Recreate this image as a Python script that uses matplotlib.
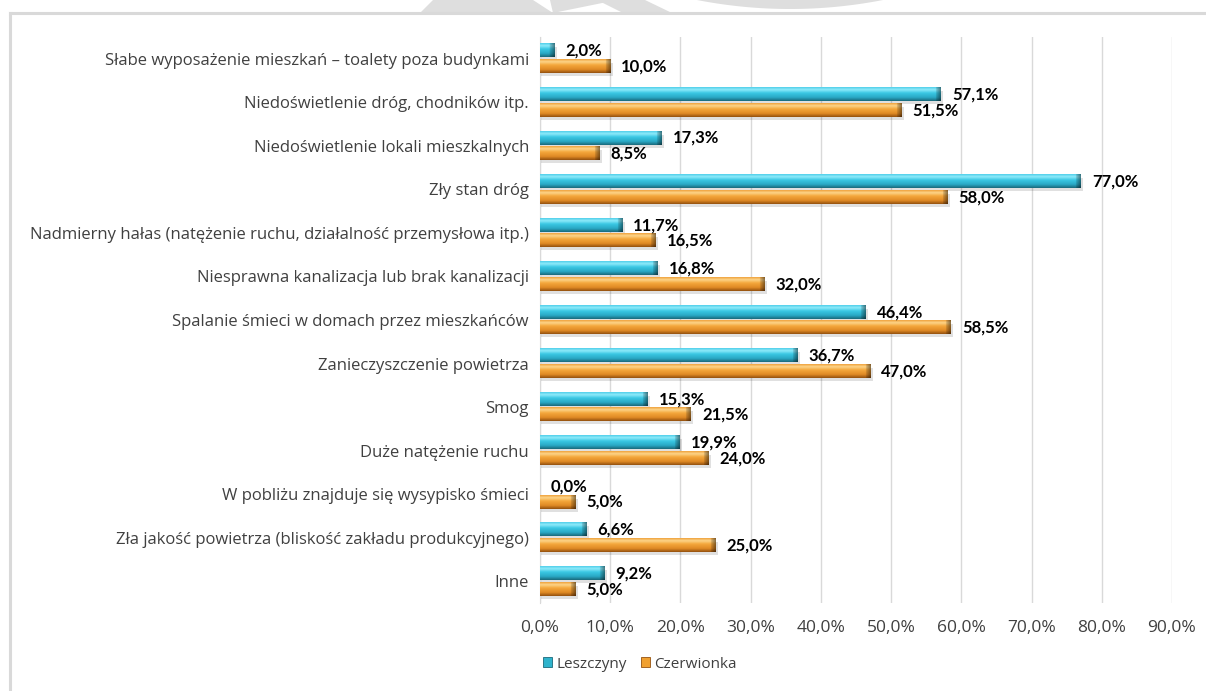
import numpy as np
import matplotlib.pyplot as plt
from matplotlib.colors import LinearSegmentedColormap
from matplotlib.patches import Polygon, Rectangle
from matplotlib.lines import Line2D

plt.rcParams['font.family'] = ['Lato', 'DejaVu Sans']

categories = [
    'Słabe wyposażenie mieszkań – toalety poza budynkami',
    'Niedoświetlenie dróg, chodników itp.',
    'Niedoświetlenie lokali mieszkalnych',
    'Zły stan dróg',
    'Nadmierny hałas (natężenie ruchu, działalność przemysłowa itp.)',
    'Niesprawna kanalizacja lub brak kanalizacji',
    'Spalanie śmieci w domach przez mieszkańców',
    'Zanieczyszczenie powietrza',
    'Smog',
    'Duże natężenie ruchu',
    'W pobliżu znajduje się wysypisko śmieci',
    'Zła jakość powietrza (bliskość zakładu produkcyjnego)',
    'Inne',
]
leszczyny = [2.0, 57.1, 17.3, 77.0, 11.7, 16.8, 46.4, 36.7, 15.3, 19.9, 0.0, 6.6, 9.2]
czerwionka = [10.0, 51.5, 8.5, 58.0, 16.5, 32.0, 58.5, 47.0, 21.5, 24.0, 5.0, 25.0, 5.0]
series_names = ['Leszczyny', 'Czerwionka']

W, H = 1206, 691
fig = plt.figure(figsize=(W / 100, H / 100), dpi=100)

def fx(x):
    return x / W

def fy(y):
    return 1 - y / H

# faint logo pieces peeking above the frame
logo_grey = '#dedede'
shapes = [
    [(433, 0), (533, 0), (553, 13), (420, 13)],
    [(550, 0), (617, 0), (553, 13)],
    [(597, 0), (645, 0), (672, 13), (623, 13)],
]
for pts in shapes:
    fig.add_artist(Polygon([(fx(a), fy(b)) for a, b in pts], closed=True,
                           transform=fig.transFigure, color=logo_grey, lw=0))
R, cx, cy = 485, 790, -476
xs = np.linspace(697, 883, 60)
ys = cy + np.sqrt(np.clip(R ** 2 - (xs - cx) ** 2, 0, None))
arc = [(fx(a), fy(b)) for a, b in zip(xs, ys)] + [(fx(883), fy(0)), (fx(697), fy(0))]
fig.add_artist(Polygon(arc, closed=True, transform=fig.transFigure, color=logo_grey, lw=0))

# chart frame
fig.add_artist(Line2D([fx(10), fx(10)], [0, fy(13)], color='#d9d9d9', lw=2.2))
fig.add_artist(Line2D([fx(10), 1], [fy(13), fy(13)], color='#d9d9d9', lw=2.2))

ax = fig.add_axes([fx(540), fy(603), fx(1172) - fx(540), fy(37) - fy(603)])

teal_cmap = LinearSegmentedColormap.from_list('teal', [
    (0.0, '#52d0ea'), (0.18, '#8eeafa'), (0.42, '#3ac8e4'),
    (0.75, '#29a8c4'), (1.0, '#1a6a7c')])
orange_cmap = LinearSegmentedColormap.from_list('orange', [
    (0.0, '#f0a33e'), (0.18, '#fdd58a'), (0.42, '#f4a73c'),
    (0.75, '#e08a25'), (1.0, '#95520f')])

y = np.arange(len(categories))
bh = 0.3
off = 0.18

def shaded_bars(values, pos, cmap):
    rows = np.linspace(0, 1, 40)
    grad = cmap(rows)[:, :3]
    for v, yc in zip(values, pos):
        if v <= 0:
            continue
        y0, y1 = yc - bh / 2, yc + bh / 2
        # soft shadow under the bar
        ax.add_patch(Rectangle((0, y0 + 0.07), v + 0.35, bh, color='#000000',
                               alpha=0.12, lw=0, zorder=2))
        ncol = max(int(v * 10), 4)
        bev = min(7, ncol // 2)
        img = np.repeat(grad[:, None, :], ncol, axis=1)
        shade = np.ones(ncol)
        shade[-bev:] = np.linspace(0.85, 0.55, bev)
        img = img * shade[None, :, None]
        ax.imshow(img, extent=(0, v, y0, y1), origin='lower', aspect='auto',
                  interpolation='bilinear', zorder=3)

shaded_bars(leszczyny, y - off, teal_cmap)
shaded_bars(czerwionka, y + off, orange_cmap)

def fmt(v):
    return f'{v:.1f}'.replace('.', ',') + '%'

for vals, pos in [(leszczyny, y - off), (czerwionka, y + off)]:
    for v, yc in zip(vals, pos):
        ax.annotate(fmt(v), (v, yc), xytext=(8, 0), textcoords='offset points',
                    ha='left', va='center', fontsize=12, fontweight='bold',
                    color='#000000', zorder=5)

label_font = {'family': ['Open Sans', 'DejaVu Sans'], 'size': 12}

ax.set_xlim(0, 90)
ax.set_ylim(len(categories) - 0.5, -0.5)
ax.set_xticks(np.arange(0, 91, 10))
ax.set_xticklabels([fmt(t) for t in np.arange(0, 91, 10)],
                   fontdict={**label_font, 'size': 12.5}, color='#404040')
ax.set_yticks(y)
ax.set_yticklabels(categories, fontdict=label_font, color='#404040')
ax.tick_params(length=0, pad=8)
ax.tick_params(axis='x', pad=12)
ax.grid(axis='x', color='#d9d9d9', lw=1)
ax.set_axisbelow(True)
for s in ['top', 'right', 'bottom']:
    ax.spines[s].set_visible(False)
ax.spines['left'].set_color('#d9d9d9')

handles = [Rectangle((0, 0), 1, 1, fc='#2fb3cc', ec='#1b6a7b', lw=0.6),
           Rectangle((0, 0), 1, 1, fc='#f0a030', ec='#95520f', lw=0.6)]
fig.legend(handles, series_names, loc='center', bbox_to_anchor=(fx(640), fy(664)),
           ncol=2, frameon=False, prop={'family': ['Open Sans', 'DejaVu Sans'], 'size': 11},
           handlelength=0.6, handleheight=0.6,
           handletextpad=0.3, columnspacing=0.9, labelcolor='#404040')

fig.savefig('out.png', dpi=100)
